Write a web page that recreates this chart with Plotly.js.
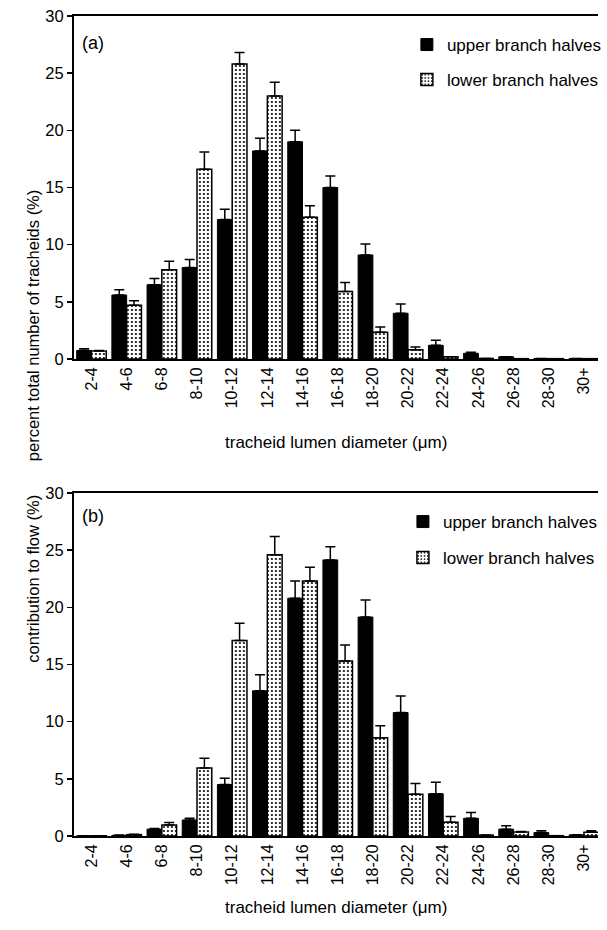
<!DOCTYPE html>
<html>
<head>
<meta charset="utf-8">
<script src="https://cdn.plot.ly/plotly-3.0.1.min.js"></script>
<style>html,body{margin:0;padding:0;background:#fff;}#chart{width:607px;height:930px;}</style>
</head>
<body>
<div id="chart"></div>
<script>
// ---- data ----
const categories = ["2-4","4-6","6-8","8-10","10-12","12-14","14-16","16-18","18-20","20-22","22-24","24-26","26-28","28-30","30+"];

// panel (a): percent of total number of tracheids
const upperA    = [0.75, 5.6, 6.5, 8.0, 12.2, 18.2, 19.0, 15.0, 9.1, 4.0, 1.2, 0.5, 0.2, 0.05, 0.05];
const upperAErr = [0.15, 0.45, 0.55, 0.7, 0.9, 1.1, 1.0, 1.0, 0.95, 0.8, 0.45, 0.1, 0, 0, 0];
const lowerA    = [0.7, 4.7, 7.8, 16.6, 25.8, 23.0, 12.4, 5.9, 2.35, 0.8, 0.2, 0.05, 0.03, 0.03, 0.03];
const lowerAErr = [0.05, 0.4, 0.75, 1.5, 1.0, 1.2, 1.0, 0.8, 0.45, 0.25, 0, 0, 0, 0, 0];

// panel (b): contribution to flow
const upperB    = [0.02, 0.06, 0.6, 1.4, 4.5, 12.7, 20.8, 24.15, 19.15, 10.8, 3.7, 1.55, 0.6, 0.3, 0.1];
const upperBErr = [0, 0.02, 0.05, 0.15, 0.55, 1.4, 1.5, 1.15, 1.5, 1.45, 1.0, 0.5, 0.3, 0.17, 0];
const lowerB    = [0.02, 0.12, 0.97, 5.95, 17.1, 24.6, 22.3, 15.3, 8.6, 3.65, 1.2, 0.08, 0.35, 0.03, 0.32];
const lowerBErr = [0, 0.03, 0.2, 0.85, 1.5, 1.6, 1.2, 1.4, 1.05, 0.95, 0.5, 0, 0.05, 0, 0.13];

const seriesNames = ["upper branch halves", "lower branch halves"];
const xTitle = "tracheid lumen diameter (\u03bcm)";
const yTitleA = "percent total number of tracheids (%)";
const yTitleB = "contribution to flow (%)";

// ---- styling ----
const FONT = "Liberation Sans, Arial, sans-serif";
const zeros = a => a.map(() => 0);
function errBar(arr){
  return {type:'data', symmetric:false, array:arr, arrayminus:zeros(arr), color:'#000', thickness:1.5, width:5, visible:true};
}
const solid = {color:'#000', line:{color:'#000', width:1}};
const dotted = {color:'#fff', line:{color:'#000', width:1.5},
  pattern:{shape:'.', fgcolor:'#000', bgcolor:'#fff', size:4, solidity:0.22}};

const traces = [
  {type:'bar', x:categories, y:upperA, name:seriesNames[0], marker:solid, error_y:errBar(upperAErr), xaxis:'x', yaxis:'y', legend:'legend'},
  {type:'bar', x:categories, y:lowerA, name:seriesNames[1], marker:dotted, error_y:errBar(lowerAErr), xaxis:'x', yaxis:'y', legend:'legend2'},
  {type:'bar', x:categories, y:upperB, name:seriesNames[0], marker:solid, error_y:errBar(upperBErr), xaxis:'x2', yaxis:'y2', legend:'legend3'},
  {type:'bar', x:categories, y:lowerB, name:seriesNames[1], marker:dotted, error_y:errBar(lowerBErr), xaxis:'x2', yaxis:'y2', legend:'legend4'}
];

const W = 607, H = 930;
const xDom = [75/W, 1];
function xa(anchor){
  return {type:'category', domain:xDom, anchor:anchor, range:[-0.5, 14.4],
    showline:true, linecolor:'#000', linewidth:2, mirror:true, ticks:'', tickangle:-90,
    tickfont:{family:FONT, size:16, color:'#000'}, showgrid:false, zeroline:false, fixedrange:true};
}
function ya(anchor, dom){
  return {domain:dom, anchor:anchor, range:[0,30], dtick:5, tick0:0,
    showline:true, linecolor:'#000', linewidth:2, ticks:'outside', ticklen:5, tickwidth:1.5, tickcolor:'#000',
    tickfont:{family:FONT, size:16.5, color:'#000'}, showgrid:false, zeroline:false, fixedrange:true};
}
function leg(yPix, xPix){
  return {x:xPix/W, y:1 - yPix/H, xanchor:'left', yanchor:'middle', bgcolor:'rgba(0,0,0,0)', borderwidth:0,
    font:{family:FONT, size:17, color:'#000'}, itemclick:false};
}
function ann(text, xPix, yPix, opts, size){
  return Object.assign({text:text, xref:'paper', yref:'paper', x:xPix/W, y:1 - yPix/H, showarrow:false,
    font:{family:FONT, size:size||17, color:'#000'}}, opts||{});
}

const layout = {
  width:W, height:H,
  margin:{l:0, r:0, t:0, b:0},
  paper_bgcolor:'#fff', plot_bgcolor:'#fff',
  barmode:'group', bargap:0.16, bargroupgap:0,
  showlegend:true,
  xaxis: xa('y'),
  yaxis: ya('x', [1 - 359/H, 1 - 16/H]),
  xaxis2: xa('y2'),
  yaxis2: ya('x2', [1 - 836/H, 1 - 493/H]),
  legend: leg(45, 413),
  legend2: leg(80, 413),
  legend3: leg(522, 409),
  legend4: leg(558, 409),
  annotations: [
    ann('(a)', 81, 31, {xanchor:'left'}, 18),
    ann('(b)', 81, 516, {xanchor:'left'}, 18),
    ann(yTitleA, 22, 188, {textangle:-90}, 16.5),
    ann(yTitleB, 22, 665, {textangle:-90}, 16.5),
    ann(xTitle, 341, 442),
    ann(xTitle, 341, 919)
  ]
};

Plotly.newPlot('chart', traces, layout, {displayModeBar:false, staticPlot:true});
</script>
</body>
</html>
